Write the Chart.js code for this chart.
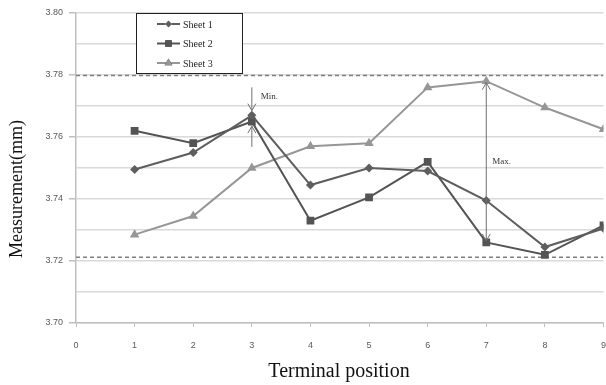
<!DOCTYPE html>
<html>
<head>
<meta charset="utf-8">
<script src="https://cdn.jsdelivr.net/npm/chart.js@4/dist/chart.umd.min.js"></script>
<style>
html,body{margin:0;padding:0;background:#fff;overflow:hidden;width:606px;height:385px;}
#wrap{width:609px;height:385px;position:relative;}
</style>
</head>
<body>
<div id="wrap"><canvas id="c"></canvas></div>
<script>
// ---- data ----
const positions = [1, 2, 3, 4, 5, 6, 7, 8, 9];
const sheet1 = [3.7495, 3.755, 3.767, 3.7445, 3.750, 3.749, 3.7395, 3.7245, 3.7305];
const sheet2 = [3.762, 3.758, 3.765, 3.733, 3.7405, 3.752, 3.726, 3.722, 3.7315];
const sheet3 = [3.7285, 3.7345, 3.750, 3.757, 3.758, 3.776, 3.778, 3.7695, 3.7625];
const seriesNames = ['Sheet 1', 'Sheet 2', 'Sheet 3'];
const upperLimit = 3.7798;
const lowerLimit = 3.7212;
const yTickLabels = ['3.70', '3.72', '3.74', '3.76', '3.78', '3.80'];
const xTickLabels = ['0', '1', '2', '3', '4', '5', '6', '7', '8', '9'];
const minArrow = {x: 3, top: 3.776, topEnd: 3.7685, bottom: 3.7568, bottomEnd: 3.7635, label: 'Min.'};
const maxArrow = {x: 7, top: 3.7775, bottom: 3.7265, label: 'Max.'};
const yTitle = 'Measurement(mm)';
const xTitle = 'Terminal position';

const colors = ['#5e5e5e', '#545454', '#969696'];
const styles = ['rectRot', 'rect', 'triangle'];
const radii = [4.5, 5.5, 5.5];
const seriesData = [sheet1, sheet2, sheet3];

const datasets = seriesData.map((arr, i) => ({
  label: seriesNames[i],
  data: arr.map((v, j) => ({x: positions[j], y: v})),
  borderColor: colors[i],
  backgroundColor: colors[i],
  borderWidth: 2,
  pointStyle: styles[i],
  pointRadius: radii[i],
  pointBorderWidth: 0,
  tension: 0,
  order: 1
}));
[upperLimit, lowerLimit].forEach(v => {
  datasets.push({
    label: 'limit',
    data: [{x: 0, y: v}, {x: 9, y: v}],
    borderColor: '#7f7f7f',
    borderWidth: 1.5,
    borderDash: [4, 3],
    pointRadius: 0,
    order: 2
  });
});

function arrowHead(ctx, x, y, dir) {
  ctx.beginPath();
  ctx.moveTo(x - 4, y - 7 * dir);
  ctx.lineTo(x, y);
  ctx.lineTo(x + 4, y - 7 * dir);
  ctx.stroke();
}

const annot = {
  id: 'annot',
  afterDatasetsDraw(chart) {
    const ctx = chart.ctx;
    const xs = chart.scales.x, ys = chart.scales.y;
    ctx.save();
    ctx.strokeStyle = '#707070';
    ctx.lineWidth = 1;
    // Min arrows
    let px = xs.getPixelForValue(minArrow.x);
    let y1 = ys.getPixelForValue(minArrow.top), y2 = ys.getPixelForValue(minArrow.topEnd);
    ctx.beginPath(); ctx.moveTo(px, y1); ctx.lineTo(px, y2); ctx.stroke();
    arrowHead(ctx, px, y2, 1);
    let y3 = ys.getPixelForValue(minArrow.bottom), y4 = ys.getPixelForValue(minArrow.bottomEnd);
    ctx.beginPath(); ctx.moveTo(px, y3); ctx.lineTo(px, y4); ctx.stroke();
    arrowHead(ctx, px, y4, -1);
    ctx.fillStyle = '#333';
    ctx.font = '9px "Liberation Serif"';
    ctx.textBaseline = 'middle';
    ctx.fillText(minArrow.label, px + 9, y1 + 9);
    // Max arrow
    px = xs.getPixelForValue(maxArrow.x);
    y1 = ys.getPixelForValue(maxArrow.top); y2 = ys.getPixelForValue(maxArrow.bottom);
    ctx.beginPath(); ctx.moveTo(px, y1); ctx.lineTo(px, y2); ctx.stroke();
    arrowHead(ctx, px, y1, -1);
    arrowHead(ctx, px, y2, 1);
    ctx.fillText(maxArrow.label, px + 6, (y1 + y2) / 2);
    // Legend box
    const bx = 136, by = 13, bw = 106, bh = 60;
    ctx.fillStyle = '#fff';
    ctx.fillRect(bx, by, bw, bh);
    ctx.strokeStyle = '#222';
    ctx.lineWidth = 1;
    ctx.strokeRect(bx + 0.5, by + 0.5, bw, bh);
    seriesNames.forEach((name, i) => {
      const ly = by + 11 + i * 19.5;
      ctx.strokeStyle = colors[i];
      ctx.lineWidth = 2;
      ctx.beginPath(); ctx.moveTo(157, ly); ctx.lineTo(180, ly); ctx.stroke();
      Chart.helpers.drawPoint(ctx, {pointStyle: styles[i], radius: radii[i] - 1, borderWidth: 0}, 168.5, ly);
      ctx.fillStyle = colors[i];
      ctx.fill();
      ctx.fillStyle = '#222';
      ctx.font = '10px "Liberation Serif"';
      ctx.textBaseline = 'middle';
      ctx.fillText(name, 183, ly + 1);
    });
    // Axis titles
    ctx.fillStyle = '#111';
    ctx.textAlign = 'center';
    ctx.textBaseline = 'middle';
    ctx.font = '18px "Liberation Serif"';
    ctx.save();
    ctx.translate(17, 189);
    ctx.rotate(-Math.PI / 2);
    ctx.fillText(yTitle, 0, 0);
    ctx.restore();
    ctx.font = '20px "Liberation Serif"';
    ctx.fillText(xTitle, 339, 372);
    ctx.restore();
  }
};

new Chart(document.getElementById('c'), {
  type: 'line',
  data: {datasets},
  options: {
    responsive: true,
    maintainAspectRatio: false,
    animation: false,
    layout: {padding: {top: 13, left: 0, right: 0, bottom: 0}},
    plugins: {legend: {display: false}, tooltip: {enabled: false}},
    scales: {
      x: {
        type: 'linear', min: 0, max: 9,
        afterBuildTicks: s => { s.ticks = xTickLabels.map(t => ({value: Number(t)})); },
        ticks: {
          callback: (v, i) => xTickLabels[i],
          font: {family: 'Liberation Sans', size: 9},
          color: '#595959',
          padding: 13,
          maxRotation: 0
        },
        grid: {drawOnChartArea: false, tickLength: 4, color: '#bfbfbf', lineWidth: 1},
        border: {color: '#bfbfbf', width: 1.5},
        afterFit: s => { s.height = 62; s.paddingRight = 0; s.paddingLeft = 0; }
      },
      y: {
        type: 'linear', min: 3.70, max: 3.80,
        afterBuildTicks: s => {
          const t = [];
          for (let i = 0; i <= 10; i++) t.push({value: 3.70 + i * 0.01});
          s.ticks = t;
        },
        ticks: {
          callback: (v, i) => (i % 2 === 0 ? yTickLabels[i / 2] : ''),
          font: {family: 'Liberation Sans', size: 9},
          color: '#595959',
          padding: 6
        },
        grid: {
          color: '#d9d9d9', lineWidth: 1.5, tickLength: 7,
          tickColor: c => (c.index % 2 === 0 ? '#bfbfbf' : 'rgba(0,0,0,0)')
        },
        border: {color: '#bfbfbf', width: 1.5},
        afterFit: s => { s.width = 76; s.paddingTop = 0; s.paddingBottom = 0; }
      }
    }
  },
  plugins: [annot]
});
</script>
</body>
</html>
